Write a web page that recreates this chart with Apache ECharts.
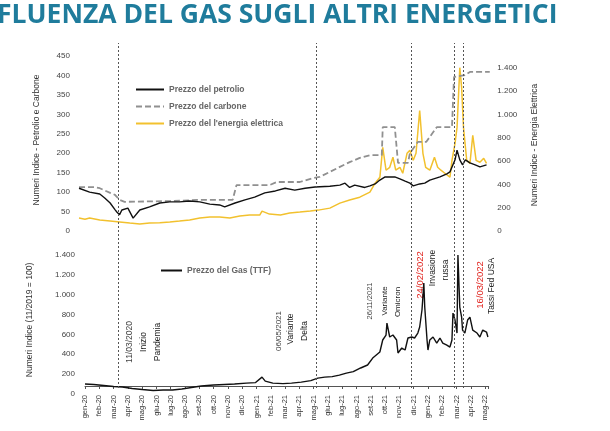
<!DOCTYPE html>
<html><head><meta charset="utf-8">
<script src="https://cdn.jsdelivr.net/npm/echarts@6/dist/echarts.min.js"></script>
<style>html,body{margin:0;padding:0;background:#fff}#c{width:610px;height:431px}</style>
</head><body><div id="c"></div>
<script>
const monthLabels = ['gen-20','feb-20','mar-20','apr-20','mag-20','giu-20','lug-20','ago-20','set-20','ott-20','nov-20','dic-20',
  'gen-21','feb-21','mar-21','apr-21','mag-21','giu-21','lug-21','ago-21','set-21','ott-21','nov-21','dic-21',
  'gen-22','feb-22','mar-22','apr-22','mag-22'];
const seriesNames = ['Prezzo del petrolio','Prezzo del carbone',"Prezzo del l'energia elettrica",'Prezzo del Gas (TTF)'];
const oilData = [['2019-12-19',110],['2020-01-11',100],['2020-02-02',95],['2020-02-12',85],['2020-02-23',72],['2020-03-04',55],['2020-03-08',49],['2020-03-14',42],['2020-03-19',54],['2020-04-01',59],['2020-04-12',33],['2020-04-26',54],['2020-05-17',62],['2020-06-08',72],['2020-06-29',75],['2020-07-20',75],['2020-08-11',77],['2020-09-02',75],['2020-09-23',69],['2020-10-14',67],['2020-10-25',62],['2020-11-16',72],['2020-12-07',80],['2020-12-28',87],['2021-01-19',98],['2021-02-10',103],['2021-03-01',110],['2021-03-22',105],['2021-04-13',110],['2021-05-04',113],['2021-06-05',115],['2021-06-26',118],['2021-07-07',123],['2021-07-17',112],['2021-07-28',118],['2021-08-19',112],['2021-08-30',116],['2021-09-10',121],['2021-09-20',131],['2021-10-01',139],['2021-10-11',139],['2021-10-22',139],['2021-11-02',134],['2021-11-13',128],['2021-11-23',123],['2021-11-30',116],['2021-12-14',121],['2021-12-25',123],['2022-01-05',131],['2022-01-27',139],['2022-02-10',147],['2022-02-16',152],['2022-02-26',183],['2022-03-02',208],['2022-03-08',183],['2022-03-14',170],['2022-03-20',183],['2022-03-30',175],['2022-04-10',170],['2022-04-20',165],['2022-05-04',170]];
const coalData = [['2019-12-19',113],['2020-01-21',113],['2020-02-02',110],['2020-02-23',98],['2020-03-04',93],['2020-03-14',80],['2020-03-25',75],['2020-06-29',77],['2020-09-02',80],['2020-11-11',80],['2020-11-19',118],['2021-01-29',118],['2021-02-13',126],['2021-04-02',126],['2021-04-29',136],['2021-05-14',139],['2021-06-05',152],['2021-06-26',165],['2021-07-17',177],['2021-08-08',188],['2021-08-30',195],['2021-09-24',195],['2021-09-26',267],['2021-10-22',267],['2021-10-29',175],['2021-11-19',175],['2021-11-23',200],['2021-12-10',229],['2021-12-28',229],['2022-01-20',267],['2022-02-20',267],['2022-02-24',396],['2022-03-19',401],['2022-03-30',409],['2022-05-11',409]];
const elecData = [['2019-12-19',111],['2020-01-01',100],['2020-01-11',111],['2020-02-02',94],['2020-02-23',85],['2020-03-14',77],['2020-04-05',68],['2020-04-26',60],['2020-05-17',68],['2020-06-08',70],['2020-06-29',77],['2020-07-20',85],['2020-08-11',94],['2020-09-02',111],['2020-09-23',120],['2020-10-14',120],['2020-11-05',111],['2020-11-26',128],['2020-12-17',137],['2021-01-08',137],['2021-01-13',170],['2021-01-29',145],['2021-02-20',137],['2021-03-11',154],['2021-04-02',162],['2021-04-24',171],['2021-05-11',179],['2021-05-14',170],['2021-06-05',196],['2021-06-26',239],['2021-07-17',265],['2021-08-08',290],['2021-08-30',333],['2021-09-10',410],['2021-09-20',461],['2021-09-26',717],['2021-10-03',521],['2021-10-11',546],['2021-10-18',632],['2021-10-24',521],['2021-11-02',546],['2021-11-08',495],['2021-11-17',666],['2021-11-23',691],['2021-11-30',606],['2021-12-06',666],['2021-12-14',1033],['2021-12-21',666],['2021-12-27',546],['2022-01-05',521],['2022-01-15',632],['2022-01-22',546],['2022-01-29',521],['2022-02-06',495],['2022-02-16',461],['2022-02-20',606],['2022-02-26',751],['2022-03-02',888],['2022-03-08',1400],['2022-03-12',1229],['2022-03-16',888],['2022-03-23',606],['2022-03-30',580],['2022-04-05',819],['2022-04-12',606],['2022-04-20',589],['2022-04-28',623],['2022-05-04',580]];
const gasData = [['2020-01-01',100],['2020-01-20',95],['2020-02-10',85],['2020-03-01',75],['2020-03-20',70],['2020-04-10',55],['2020-05-01',45],['2020-05-25',35],['2020-06-15',40],['2020-07-05',40],['2020-07-25',50],['2020-08-15',65],['2020-09-05',80],['2020-10-01',90],['2020-10-25',95],['2020-11-15',100],['2020-12-10',110],['2020-12-30',115],['2021-01-13',170],['2021-01-20',130],['2021-02-05',110],['2021-02-25',105],['2021-03-15',110],['2021-04-05',120],['2021-04-25',135],['2021-05-10',160],['2021-05-25',170],['2021-06-10',175],['2021-06-25',190],['2021-07-10',210],['2021-07-25',225],['2021-08-10',262],['2021-08-25',292],['2021-09-05',362],['2021-09-20',423],['2021-09-26',544],['2021-10-03',594],['2021-10-05',715],['2021-10-11',574],['2021-10-18',594],['2021-10-26',544],['2021-10-29',413],['2021-11-06',463],['2021-11-13',443],['2021-11-19',564],['2021-11-27',574],['2021-12-03',564],['2021-12-10',614],['2021-12-14',675],['2021-12-19',846],['2021-12-21',977],['2021-12-23',1117],['2021-12-25',876],['2021-12-30',544],['2022-01-01',443],['2022-01-05',544],['2022-01-12',574],['2022-01-20',513],['2022-01-27',564],['2022-02-02',513],['2022-02-10',493],['2022-02-16',473],['2022-02-20',544],['2022-02-22',815],['2022-02-26',745],['2022-03-02',614],['2022-03-04',1400],['2022-03-08',876],['2022-03-12',775],['2022-03-14',644],['2022-03-19',614],['2022-03-25',745],['2022-03-30',775],['2022-04-05',644],['2022-04-14',614],['2022-04-20',574],['2022-04-26',644],['2022-05-04',624],['2022-05-07',574]];
const eventDates = ['2020-03-11','2021-05-06','2021-11-26','2022-02-24','2022-03-16'];
const annotations = [
  ['11/03/2020',130,342,'#444',8.5],['Inizio',144,342,'#222',8.5],['Pandemia',158,342,'#222',8.5],
  ['06/05/2021',279,331,'#444',8],['Variante',291,329,'#222',8.5],['Delta',305,331,'#222',8.5],
  ['26/11/2021',370,301,'#444',7.5],['Variante',385,301,'#222',8],['Omicron',398,302,'#222',8],
  ['24/02/2022',420,275,'#e0201b',9.5],['Invasione',433,268,'#222',8.5],['russa',446,270,'#222',8.5],
  ['16/03/2022',480,285,'#e0201b',9.5],['Tassi Fed USA',492,286,'#222',8.5]
];

function toM(s){
  const [y,m,d] = s.split('-').map(Number);
  const dim = new Date(y, m, 0).getDate();
  return (y-2020)*12 + (m-1) + (d-1)/dim;
}
const conv = arr => arr.map(p => [toM(p[0]), p[1]]);
const fmt = v => v >= 1000 ? Math.floor(v/1000) + '.' + String(v%1000).padStart(3,'0') : String(v);
const FONT = "'Liberation Sans Narrow','Liberation Sans',Arial,sans-serif";

const chart = echarts.init(document.getElementById('c'), null, {renderer:'canvas'});
const hiddenX = i => ({type:'value', gridIndex:i, min:-0.5, max:28.5, show:false});
const graphics = [
  {type:'text', left:-3, top:2, style:{text:'FLUENZA DEL GAS SUGLI ALTRI ENERGETICI', fill:'#1f7c9c', font:"bold 26.5px 'Open Sans', sans-serif"}},
  {type:'text', x:37, y:140, rotation:Math.PI/2, style:{text:'Numeri Indice - Petrolio e Carbone', fill:'#333', font:'8.5px '+FONT, align:'center', verticalAlign:'middle'}},
  {type:'text', x:535, y:145, rotation:Math.PI/2, style:{text:'Numeri Indice - Energia Elettrica', fill:'#333', font:'8.5px '+FONT, align:'center', verticalAlign:'middle'}},
  {type:'text', x:30, y:320, rotation:Math.PI/2, style:{text:'Numeri Indice (11/2019 = 100)', fill:'#333', font:'8.5px '+FONT, align:'center', verticalAlign:'middle'}}
];
annotations.forEach(a => graphics.push({type:'text', x:a[1], y:a[2], rotation:Math.PI/2,
  style:{text:a[0], fill:a[3], font:a[4]+'px '+FONT, align:'center', verticalAlign:'middle'}}));

const legendItemStyle = {color:'rgba(0,0,0,0)', borderColor:'rgba(0,0,0,0)', borderWidth:0, opacity:0};
chart.setOption({
  animation:false,
  backgroundColor:'#fff',
  grid:[
    {left:77.86, right:117.7, top:56, bottom:200},
    {left:85, right:121.3, top:255, bottom:37},
    {left:77.86, right:117.7, top:43, bottom:43}
  ],
  xAxis:[
    hiddenX(0),
    {type:'value', gridIndex:1, min:0, max:28.25, interval:1, offset:-8,
      axisLine:{show:true, lineStyle:{color:'#555', width:1}},
      axisTick:{show:true, length:3, lineStyle:{color:'#555'}},
      splitLine:{show:false},
      axisLabel:{rotate:90, fontSize:7.5, color:'#333', margin:9, fontFamily:FONT,
        formatter:v => (Number.isInteger(v) && monthLabels[v]) ? monthLabels[v] : ''}},
    hiddenX(2)
  ],
  yAxis:[
    {type:'value', gridIndex:0, min:0, max:450, interval:50, position:'left',
      axisLine:{show:false}, axisTick:{show:false}, splitLine:{show:false},
      axisLabel:{fontSize:8, color:'#444', margin:8, fontFamily:FONT}},
    {type:'value', gridIndex:0, min:0, max:1500, interval:200, position:'right',
      axisLine:{show:false}, axisTick:{show:false}, splitLine:{show:false},
      axisLabel:{fontSize:8, color:'#444', margin:5, fontFamily:FONT, showMaxLabel:false, formatter:fmt}},
    {type:'value', gridIndex:1, min:0, max:1400, interval:200, position:'left',
      axisLine:{show:false}, axisTick:{show:false}, splitLine:{show:false},
      axisLabel:{fontSize:8, color:'#444', margin:10, fontFamily:FONT, formatter:fmt}},
    {type:'value', gridIndex:2, min:0, max:1, show:false}
  ],
  legend:[
    {data:seriesNames.slice(0,3), orient:'vertical', left:130, top:80, itemWidth:28, itemHeight:10, itemGap:8,
      itemStyle:legendItemStyle,
      textStyle:{fontSize:8.5, fontWeight:'bold', color:'#666', fontFamily:FONT}},
    {data:[seriesNames[3]], left:155, top:261, itemWidth:21, itemHeight:10,
      itemStyle:legendItemStyle,
      textStyle:{fontSize:8.5, fontWeight:'bold', color:'#666', fontFamily:FONT}}
  ],
  graphic:graphics,
  series:[
    {name:seriesNames[0], type:'line', xAxisIndex:0, yAxisIndex:0, data:conv(oilData), symbol:'none',
      lineStyle:{color:'#111', width:1.4}, itemStyle:{color:'#111'}, z:4},
    {name:seriesNames[1], type:'line', xAxisIndex:0, yAxisIndex:0, data:conv(coalData), symbol:'none',
      lineStyle:{color:'#909090', width:1.8, type:[6,3]}, itemStyle:{color:'#909090'}, z:3},
    {name:seriesNames[2], type:'line', xAxisIndex:0, yAxisIndex:1, data:conv(elecData), symbol:'none',
      lineStyle:{color:'#f2c12e', width:1.5}, itemStyle:{color:'#f2c12e'}, z:2},
    {name:seriesNames[3], type:'line', xAxisIndex:1, yAxisIndex:2, data:conv(gasData), symbol:'none',
      lineStyle:{color:'#111', width:1.4}, itemStyle:{color:'#111'}, z:4},
    {name:'eventi', type:'line', xAxisIndex:2, yAxisIndex:3, data:[[0,0]], symbol:'none', lineStyle:{width:0},
      markLine:{silent:true, symbol:'none', label:{show:false},
        lineStyle:{color:'#555', width:1, type:[2,2]},
        data:eventDates.map(d => ({xAxis:toM(d)}))}}
  ]
});
</script></body></html>
